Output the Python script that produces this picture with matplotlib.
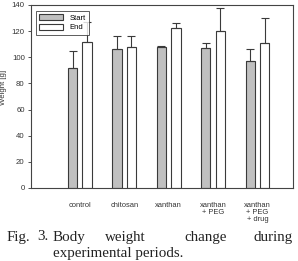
import numpy as np
import matplotlib.pyplot as plt

groups = ['control', 'chitosan', 'xanthan', 'xanthan\n+ PEG', 'xanthan\n+ PEG\n+ drug']
start_mean = [92, 106.5, 108, 107, 97.5]
start_err = [13, 9.5, 0.5, 4, 8.5]
end_mean = [112, 108, 122.5, 120, 111]
end_err = [15, 8, 4, 18, 19]
caption_line1 = ['Fig.', '3.', 'Body', 'weight', 'change', 'during']
caption_line2 = 'experimental periods.'

plt.rcParams['font.family'] = ['Liberation Sans', 'DejaVu Sans']

fig = plt.figure(figsize=(2.98, 2.61), dpi=100)
ax = fig.add_axes([0.104, 0.280, 0.879, 0.701])

x = np.arange(1, len(groups) + 1)
w = 0.21
off = 0.163
edge = '#3a3a3a'
ekw = dict(ecolor=edge, elinewidth=0.8, capsize=3.2, capthick=0.8)

ax.bar(x - off, start_mean, w, color='#c0c0c0', edgecolor=edge, linewidth=0.8, label='Start')
ax.errorbar(x - off, start_mean, yerr=[np.zeros(len(x)), start_err], fmt='none', **ekw)
ax.bar(x + off, end_mean, w, color='white', edgecolor=edge, linewidth=0.8, label='End')
ax.errorbar(x + off, end_mean, yerr=[np.zeros(len(x)), end_err], fmt='none', **ekw)

ax.set_xlim(-0.1, 5.8)
ax.set_ylim(0, 140)
ax.set_yticks(np.arange(0, 141, 20))
ax.set_xticks(x)
ax.set_xticklabels(groups, fontsize=5.4, linespacing=1.05, color='#333333')
ax.tick_params(axis='x', length=0, pad=10)
ax.tick_params(axis='y', labelsize=5.6, length=2.5, width=0.6, pad=2, colors='#333333')
ax.set_ylabel('Weight [g]', fontsize=5.6, color='#333333',
              family=['Liberation Sans Narrow', 'Liberation Sans'])
ax.yaxis.set_label_coords(-0.092, 0.55)
for s in ax.spines.values():
    s.set_linewidth(0.8)
    s.set_color('#444444')

leg = ax.legend(loc='upper left', fontsize=5.5, frameon=True, fancybox=False,
                handlelength=3.2, handleheight=0.8, borderpad=0.45,
                labelspacing=0.3, bbox_to_anchor=(0.003, 0.99))
leg.get_frame().set_edgecolor('#333333')
leg.get_frame().set_linewidth(0.7)

# caption, spread out like the justified text in the paper
serif = ['Liberation Serif', 'DejaVu Serif']
xs = [7, 37, 53, 105, 184, 253]
for word, px in zip(caption_line1, xs):
    fig.text(px / 298, 1 - 237 / 261, word, family=serif, fontsize=10.8,
             va='center', ha='left', color='#222222')
fig.text(53 / 298, 1 - 253 / 261, caption_line2, family=serif, fontsize=10.8,
         va='center', ha='left', color='#222222')

fig.savefig('out.png', dpi=100)
